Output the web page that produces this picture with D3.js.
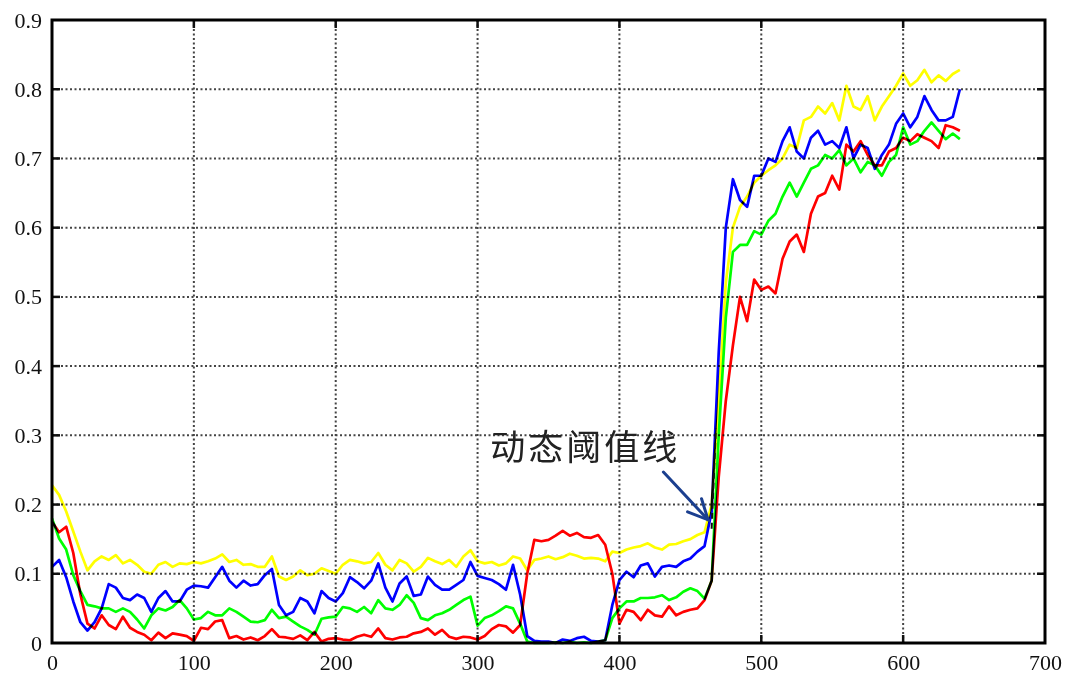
<!DOCTYPE html>
<html>
<head>
<meta charset="utf-8">
<script src="https://cdn.jsdelivr.net/npm/d3@7"></script>
<style>
  body { margin: 0; background: #fff; }
  svg { display: block; }
  .lbl text { font-family: "Liberation Serif", "Times New Roman", serif; font-size: 22px; fill: #111; }
</style>
</head>
<body>
<div id="chart"></div>
<script>
// axis ticks
const xTicks = [0, 100, 200, 300, 400, 500, 600, 700];
const yTicks = [0, 0.1, 0.2, 0.3, 0.4, 0.5, 0.6, 0.7, 0.8, 0.9];

// samples every 5 frames, 0..640
const yellow = [
  .228,.214,.19,.161,.132,.105,.118,.125,.12,.127,
  .115,.12,.113,.103,.10,.113,.117,.11,.115,.114,
  .117,.115,.118,.122,.128,.117,.12,.113,.114,.11,
  .11,.125,.096,.091,.096,.105,.098,.10,.108,.104,
  .10,.113,.12,.118,.115,.117,.13,.113,.105,.12,
  .115,.103,.11,.123,.118,.114,.12,.11,.125,.134,
  .118,.115,.117,.112,.115,.125,.122,.105,.12,.122,
  .125,.121,.124,.129,.126,.122,.123,.122,.118,.132,
  .13,.135,.138,.14,.144,.138,.135,.142,.143,.147,
  .15,.156,.16,.20,.35,.52,.60,.63,.645,.665,
  .675,.683,.69,.70,.72,.715,.755,.76,.775,.765,
  .78,.755,.805,.775,.77,.79,.755,.775,.79,.805,
  .823,.805,.813,.828,.81,.82,.812,.822,.828
];
const green = [
  .18,.151,.135,.098,.075,.055,.053,.05,.05,.045,
  .05,.045,.034,.021,.04,.05,.047,.052,.062,.05,
  .034,.036,.045,.04,.04,.05,.045,.038,.031,.03,
  .033,.048,.036,.038,.031,.024,.019,.012,.035,.037,
  .038,.052,.05,.045,.052,.043,.062,.05,.048,.055,
  .069,.058,.036,.033,.04,.043,.048,.055,.062,.067,
  .025,.036,.04,.046,.053,.05,.028,.002,.0,.0,
  .0,.001,.0,.002,.0,.001,.0,.002,.004,.036,
  .05,.06,.06,.065,.065,.066,.069,.062,.066,.074,
  .079,.075,.064,.09,.30,.47,.565,.575,.575,.595,
  .59,.61,.62,.645,.665,.645,.665,.685,.69,.705,
  .70,.712,.69,.70,.68,.695,.69,.675,.695,.705,
  .745,.72,.725,.74,.752,.74,.728,.736,.728
];
const red = [
  .175,.16,.168,.13,.07,.028,.021,.04,.026,.02,
  .038,.022,.016,.012,.004,.015,.007,.014,.012,.01,
  .003,.022,.02,.031,.033,.007,.01,.005,.008,.004,
  .01,.02,.009,.008,.006,.011,.004,.016,.002,.006,
  .007,.005,.004,.009,.012,.009,.021,.007,.005,.008,
  .009,.014,.016,.021,.012,.019,.009,.006,.009,.008,
  .005,.01,.02,.026,.024,.015,.026,.10,.149,.147,
  .149,.155,.162,.155,.159,.153,.152,.156,.142,.10,
  .028,.048,.045,.033,.048,.04,.038,.053,.04,.045,
  .048,.05,.062,.09,.24,.35,.43,.50,.465,.525,
  .51,.515,.505,.555,.58,.59,.565,.62,.645,.65,
  .675,.655,.72,.71,.725,.705,.69,.69,.71,.715,
  .73,.725,.735,.73,.725,.715,.748,.745,.74
];
const blue = [
  .11,.12,.095,.06,.03,.018,.03,.05,.085,.08,
  .065,.062,.07,.065,.045,.065,.075,.06,.06,.077,
  .083,.082,.08,.095,.11,.09,.08,.09,.083,.085,
  .098,.107,.055,.04,.045,.065,.06,.043,.075,.065,
  .06,.072,.095,.088,.079,.09,.115,.08,.06,.086,
  .096,.068,.07,.096,.084,.077,.077,.084,.091,.117,
  .097,.094,.091,.085,.077,.113,.07,.01,.003,.002,
  .002,.0,.005,.003,.007,.009,.003,.002,.004,.055,
  .091,.103,.095,.112,.115,.096,.11,.112,.11,.118,
  .122,.132,.14,.19,.42,.60,.67,.64,.63,.675,
  .675,.70,.695,.725,.745,.71,.70,.73,.74,.72,
  .725,.715,.745,.70,.72,.715,.685,.705,.72,.75,
  .765,.745,.76,.79,.77,.755,.755,.76,.80
];
const frames = d3.range(0, 645, 5);

const seriesList = [
  { name: 'yellow', color: '#ffff00', values: yellow },
  { name: 'green', color: '#00ff00', values: green },
  { name: 'red', color: '#ff0000', values: red },
  { name: 'blue', color: '#0000ff', values: blue }
];

// annotation (data coords)
const noteText = '动态阈值线';
const notePos = [309, 0.265];
const arrowFrom = [431, 0.247];
const arrowTo = [462.5, 0.178];
const thresholdSeg = [[465, 0.165], [468, 0.31]];

const W = 1065, H = 681;
const margin = { left: 52, right: 20, top: 20, bottom: 38 };

const svg = d3.select('#chart').append('svg')
  .attr('width', W)
  .attr('height', H);

const x = d3.scaleLinear().domain([0, 700]).range([margin.left, W - margin.right]);
const y = d3.scaleLinear().domain([0, 0.9]).range([H - margin.bottom, margin.top]);

const plotW = x(700) - x(0);
const plotH = y(0) - y(0.9);

// dotted grid
const grid = svg.append('g');
grid.selectAll('.vg').data(xTicks.slice(1, -1)).enter().append('line')
  .attr('x1', d => x(d)).attr('x2', d => x(d))
  .attr('y1', y(0.9)).attr('y2', y(0))
  .attr('stroke', '#444').attr('stroke-width', 2)
  .attr('stroke-dasharray', '2,2.5');
grid.selectAll('.hg').data(yTicks.slice(1, -1)).enter().append('line')
  .attr('x1', x(0)).attr('x2', x(700))
  .attr('y1', d => y(d)).attr('y2', d => y(d))
  .attr('stroke', '#444').attr('stroke-width', 2)
  .attr('stroke-dasharray', '2,2.5');

// inner solid ticks on all four sides
const tk = svg.append('g').attr('stroke', '#111').attr('stroke-width', 2.5);
xTicks.slice(1, -1).forEach(v => {
  tk.append('line').attr('x1', x(v)).attr('x2', x(v)).attr('y1', y(0)).attr('y2', y(0) - 8);
  tk.append('line').attr('x1', x(v)).attr('x2', x(v)).attr('y1', y(0.9)).attr('y2', y(0.9) + 8);
});
yTicks.slice(1, -1).forEach(v => {
  tk.append('line').attr('x1', x(0)).attr('x2', x(0) + 8).attr('y1', y(v)).attr('y2', y(v));
  tk.append('line').attr('x1', x(700)).attr('x2', x(700) - 8).attr('y1', y(v)).attr('y2', y(v));
});

// data lines
const line = d3.line()
  .x((d, i) => x(frames[i]))
  .y(d => y(d));

const lines = svg.append('g');
seriesList.forEach(s => {
  lines.append('path')
    .datum(s.values)
    .attr('fill', 'none')
    .attr('stroke', s.color)
    .attr('stroke-width', 2.7)
    .attr('stroke-linejoin', 'round')
    .style('mix-blend-mode', 'multiply')
    .attr('d', line);
});

// threshold dashes
svg.append('line')
  .attr('x1', x(thresholdSeg[0][0])).attr('y1', y(thresholdSeg[0][1]))
  .attr('x2', x(thresholdSeg[1][0])).attr('y2', y(thresholdSeg[1][1]))
  .attr('stroke', '#111').attr('stroke-width', 2)
  .attr('stroke-dasharray', '6,4');

// frame
svg.append('rect')
  .attr('x', x(0)).attr('y', y(0.9))
  .attr('width', plotW).attr('height', plotH)
  .attr('fill', 'none').attr('stroke', '#000').attr('stroke-width', 3);

// axis labels
const xAxis = svg.append('g').attr('class', 'lbl')
  .attr('transform', `translate(0,${y(0)})`)
  .call(d3.axisBottom(x).tickValues(xTicks).tickSize(0).tickPadding(11).tickFormat(d3.format('d')));
xAxis.select('.domain').remove();

const yAxis = svg.append('g').attr('class', 'lbl')
  .attr('transform', `translate(${x(0)},0)`)
  .call(d3.axisLeft(y).tickValues(yTicks).tickSize(0).tickPadding(10).tickFormat(d => d === 0 ? '0' : d3.format('.1f')(d)));
yAxis.select('.domain').remove();

// annotation
svg.append('text')
  .attr('x', x(notePos[0])).attr('y', y(notePos[1]))
  .attr('font-family', '"Noto Sans CJK SC", sans-serif')
  .attr('font-size', 35)
  .attr('letter-spacing', 3)
  .attr('fill', '#222')
  .text(noteText);

const ax1 = x(arrowFrom[0]), ay1 = y(arrowFrom[1]);
const ax2 = x(arrowTo[0]), ay2 = y(arrowTo[1]);
const ang = Math.atan2(ay2 - ay1, ax2 - ax1);
const head = 22, spread = 0.45;
const arrow = svg.append('g')
  .attr('stroke', '#1b3f8f').attr('stroke-width', 3)
  .attr('fill', 'none').attr('stroke-linecap', 'round');
arrow.append('line').attr('x1', ax1).attr('y1', ay1).attr('x2', ax2).attr('y2', ay2);
arrow.append('path')
  .attr('d', `M${ax2 - head * Math.cos(ang - spread)},${ay2 - head * Math.sin(ang - spread)}L${ax2},${ay2}L${ax2 - head * Math.cos(ang + spread)},${ay2 - head * Math.sin(ang + spread)}`);
</script>
</body>
</html>
